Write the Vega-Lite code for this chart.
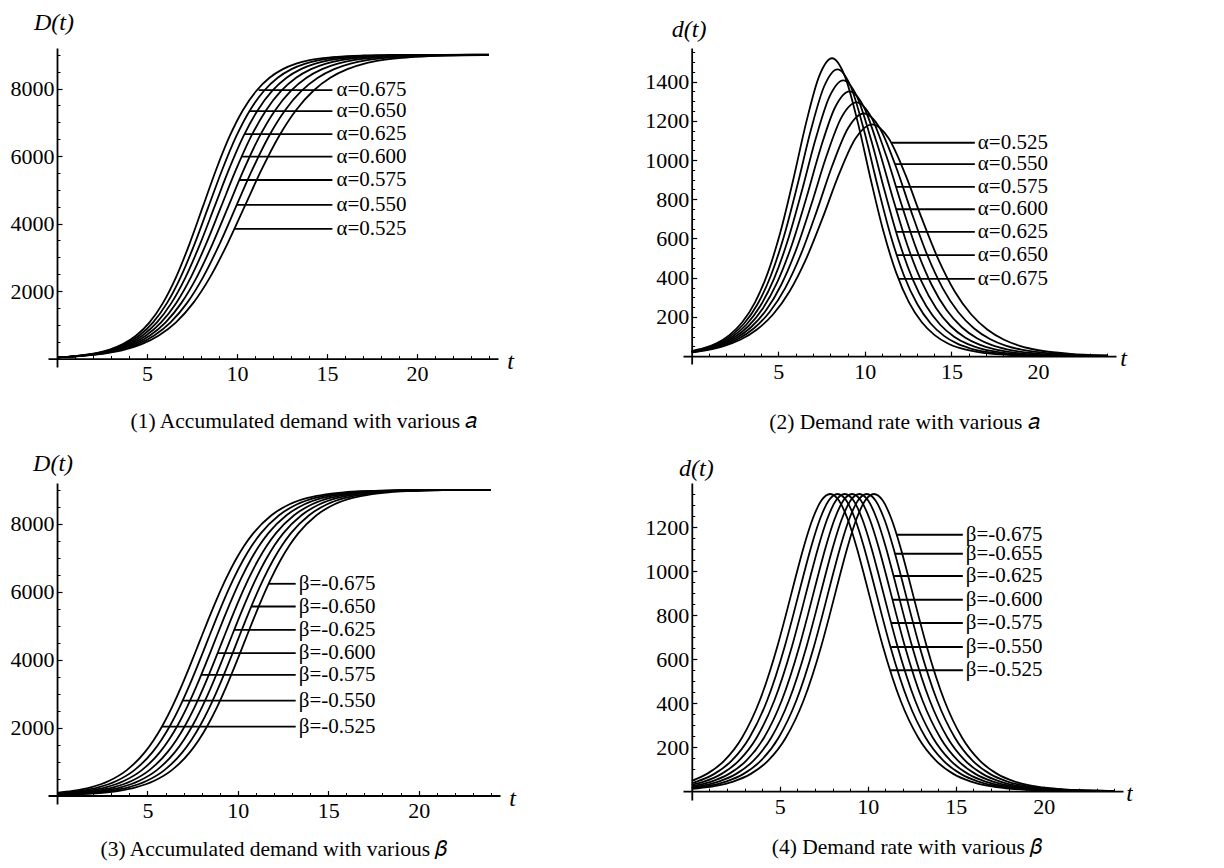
{
"$schema":"https://vega.github.io/schema/vega-lite/v6.json",
"background":"white",
"padding":{"left":10,"top":10,"right":0,"bottom":0},
"config":{"view":{"stroke":null},"font":"Liberation Serif",
 "axis":{"grid":false,"domainColor":"black","domainWidth":1.8,"tickColor":"black","labelColor":"black","labelFont":"Liberation Serif","labelFontSize":22,"titleFont":"Liberation Serif","titleColor":"black","titleFontWeight":"normal","titleFontStyle":"italic","titleFontSize":24,"titleAngle":0,"titleBaseline":"middle","titleAlign":"center"},
 "title":{"font":"Liberation Serif","fontSize":21.5,"fontWeight":"normal","color":"black","orient":"bottom","anchor":"middle","frame":"group"}},
"datasets":{
"A":[
{"s":"0.525","t":0,"D":38,"d":19.7},{"s":"0.525","t":0.895,"D":60,"d":31.4},{"s":"0.525","t":1.848,"D":99,"d":51.3},{"s":"0.525","t":2.8,"D":162,"d":83.5},{"s":"0.525","t":3.752,"D":264,"d":134.5},{"s":"0.525","t":4.705,"D":427,"d":213.5},{"s":"0.525","t":5.657,"D":683,"d":331.2},{"s":"0.525","t":6.61,"D":1073,"d":496.1},{"s":"0.525","t":7.562,"D":1642,"d":704.7},{"s":"0.525","t":8.514,"D":2421,"d":929},{"s":"0.525","t":9.467,"D":3398,"d":1110.4},{"s":"0.525","t":10.419,"D":4500,"d":1181.3},{"s":"0.525","t":11.371,"D":5602,"d":1110.4},{"s":"0.525","t":12.324,"D":6580,"d":929},{"s":"0.525","t":13.276,"D":7358,"d":704.7},{"s":"0.525","t":14.229,"D":7927,"d":496.1},{"s":"0.525","t":15.181,"D":8317,"d":331.2},{"s":"0.525","t":16.133,"D":8573,"d":213.5},{"s":"0.525","t":17.086,"D":8736,"d":134.5},{"s":"0.525","t":18.038,"D":8838,"d":83.5},{"s":"0.525","t":18.99,"D":8901,"d":51.3},{"s":"0.525","t":19.943,"D":8940,"d":31.4},{"s":"0.525","t":21.848,"D":8978,"d":11.7},{"s":"0.525","t":23.752,"D":8992,"d":4.3},{"s":"0.525","t":24,"D":8993,"d":3.8},
{"s":"0.550","t":0,"D":38,"d":20.7},{"s":"0.550","t":0.855,"D":60,"d":32.9},{"s":"0.550","t":1.764,"D":99,"d":53.8},{"s":"0.550","t":2.673,"D":162,"d":87.5},{"s":"0.550","t":3.582,"D":264,"d":140.9},{"s":"0.550","t":4.491,"D":427,"d":223.6},{"s":"0.550","t":5.4,"D":683,"d":347},{"s":"0.550","t":6.309,"D":1073,"d":519.7},{"s":"0.550","t":7.218,"D":1642,"d":738.3},{"s":"0.550","t":8.127,"D":2421,"d":973.2},{"s":"0.550","t":9.036,"D":3398,"d":1163.3},{"s":"0.550","t":9.945,"D":4500,"d":1237.5},{"s":"0.550","t":10.855,"D":5602,"d":1163.3},{"s":"0.550","t":11.764,"D":6580,"d":973.2},{"s":"0.550","t":12.673,"D":7358,"d":738.3},{"s":"0.550","t":13.582,"D":7927,"d":519.7},{"s":"0.550","t":14.491,"D":8317,"d":347},{"s":"0.550","t":15.4,"D":8573,"d":223.6},{"s":"0.550","t":16.309,"D":8736,"d":140.9},{"s":"0.550","t":17.218,"D":8838,"d":87.5},{"s":"0.550","t":18.127,"D":8901,"d":53.8},{"s":"0.550","t":19.036,"D":8940,"d":32.9},{"s":"0.550","t":20.855,"D":8978,"d":12.2},{"s":"0.550","t":22.673,"D":8992,"d":4.5},{"s":"0.550","t":24,"D":8996,"d":2.2},
{"s":"0.575","t":0,"D":38,"d":21.6},{"s":"0.575","t":0.817,"D":60,"d":34.4},{"s":"0.575","t":1.687,"D":99,"d":56.2},{"s":"0.575","t":2.557,"D":162,"d":91.4},{"s":"0.575","t":3.426,"D":264,"d":147.3},{"s":"0.575","t":4.296,"D":427,"d":233.8},{"s":"0.575","t":5.165,"D":683,"d":362.8},{"s":"0.575","t":6.035,"D":1073,"d":543.3},{"s":"0.575","t":6.904,"D":1642,"d":771.8},{"s":"0.575","t":7.774,"D":2421,"d":1017.5},{"s":"0.575","t":8.643,"D":3398,"d":1216.1},{"s":"0.575","t":9.513,"D":4500,"d":1293.8},{"s":"0.575","t":10.383,"D":5602,"d":1216.1},{"s":"0.575","t":11.252,"D":6580,"d":1017.5},{"s":"0.575","t":12.122,"D":7358,"d":771.8},{"s":"0.575","t":12.991,"D":7927,"d":543.3},{"s":"0.575","t":13.861,"D":8317,"d":362.8},{"s":"0.575","t":14.73,"D":8573,"d":233.8},{"s":"0.575","t":15.6,"D":8736,"d":147.3},{"s":"0.575","t":16.47,"D":8838,"d":91.4},{"s":"0.575","t":17.339,"D":8901,"d":56.2},{"s":"0.575","t":18.209,"D":8940,"d":34.4},{"s":"0.575","t":19.948,"D":8978,"d":12.8},{"s":"0.575","t":21.687,"D":8992,"d":4.7},{"s":"0.575","t":23.426,"D":8997,"d":1.7},{"s":"0.575","t":24,"D":8998,"d":1.2},
{"s":"0.600","t":0,"D":38,"d":22.6},{"s":"0.600","t":0.783,"D":60,"d":35.9},{"s":"0.600","t":1.617,"D":99,"d":58.7},{"s":"0.600","t":2.45,"D":162,"d":95.4},{"s":"0.600","t":3.283,"D":264,"d":153.7},{"s":"0.600","t":4.117,"D":427,"d":244},{"s":"0.600","t":4.95,"D":683,"d":378.5},{"s":"0.600","t":5.783,"D":1073,"d":566.9},{"s":"0.600","t":6.617,"D":1642,"d":805.4},{"s":"0.600","t":7.45,"D":2421,"d":1061.7},{"s":"0.600","t":8.283,"D":3398,"d":1269},{"s":"0.600","t":9.117,"D":4500,"d":1350},{"s":"0.600","t":9.95,"D":5602,"d":1269},{"s":"0.600","t":10.783,"D":6580,"d":1061.7},{"s":"0.600","t":11.617,"D":7358,"d":805.4},{"s":"0.600","t":12.45,"D":7927,"d":566.9},{"s":"0.600","t":13.283,"D":8317,"d":378.5},{"s":"0.600","t":14.117,"D":8573,"d":244},{"s":"0.600","t":14.95,"D":8736,"d":153.7},{"s":"0.600","t":15.783,"D":8838,"d":95.4},{"s":"0.600","t":16.617,"D":8901,"d":58.7},{"s":"0.600","t":17.45,"D":8940,"d":35.9},{"s":"0.600","t":19.117,"D":8978,"d":13.3},{"s":"0.600","t":20.783,"D":8992,"d":4.9},{"s":"0.600","t":22.45,"D":8997,"d":1.8},{"s":"0.600","t":24,"D":8999,"d":0.7},
{"s":"0.625","t":0,"D":38,"d":23.5},{"s":"0.625","t":0.752,"D":60,"d":37.4},{"s":"0.625","t":1.552,"D":99,"d":61.1},{"s":"0.625","t":2.352,"D":162,"d":99.4},{"s":"0.625","t":3.152,"D":264,"d":160.1},{"s":"0.625","t":3.952,"D":427,"d":254.1},{"s":"0.625","t":4.752,"D":683,"d":394.3},{"s":"0.625","t":5.552,"D":1073,"d":590.6},{"s":"0.625","t":6.352,"D":1642,"d":838.9},{"s":"0.625","t":7.152,"D":2421,"d":1105.9},{"s":"0.625","t":7.952,"D":3398,"d":1321.9},{"s":"0.625","t":8.752,"D":4500,"d":1406.3},{"s":"0.625","t":9.552,"D":5602,"d":1321.9},{"s":"0.625","t":10.352,"D":6580,"d":1105.9},{"s":"0.625","t":11.152,"D":7358,"d":838.9},{"s":"0.625","t":11.952,"D":7927,"d":590.6},{"s":"0.625","t":12.752,"D":8317,"d":394.3},{"s":"0.625","t":13.552,"D":8573,"d":254.1},{"s":"0.625","t":14.352,"D":8736,"d":160.1},{"s":"0.625","t":15.152,"D":8838,"d":99.4},{"s":"0.625","t":15.952,"D":8901,"d":61.1},{"s":"0.625","t":16.752,"D":8940,"d":37.4},{"s":"0.625","t":18.352,"D":8978,"d":13.9},{"s":"0.625","t":19.952,"D":8992,"d":5.1},{"s":"0.625","t":21.552,"D":8997,"d":1.9},{"s":"0.625","t":23.152,"D":8999,"d":0.7},{"s":"0.625","t":24,"D":8999,"d":0.4},
{"s":"0.650","t":0,"D":38,"d":24.4},{"s":"0.650","t":0.723,"D":60,"d":38.9},{"s":"0.650","t":1.492,"D":99,"d":63.6},{"s":"0.650","t":2.262,"D":162,"d":103.4},{"s":"0.650","t":3.031,"D":264,"d":166.5},{"s":"0.650","t":3.8,"D":427,"d":264.3},{"s":"0.650","t":4.569,"D":683,"d":410.1},{"s":"0.650","t":5.338,"D":1073,"d":614.2},{"s":"0.650","t":6.108,"D":1642,"d":872.5},{"s":"0.650","t":6.877,"D":2421,"d":1150.2},{"s":"0.650","t":7.646,"D":3398,"d":1374.8},{"s":"0.650","t":8.415,"D":4500,"d":1462.5},{"s":"0.650","t":9.185,"D":5602,"d":1374.8},{"s":"0.650","t":9.954,"D":6580,"d":1150.2},{"s":"0.650","t":10.723,"D":7358,"d":872.5},{"s":"0.650","t":11.492,"D":7927,"d":614.2},{"s":"0.650","t":12.262,"D":8317,"d":410.1},{"s":"0.650","t":13.031,"D":8573,"d":264.3},{"s":"0.650","t":13.8,"D":8736,"d":166.5},{"s":"0.650","t":14.569,"D":8838,"d":103.4},{"s":"0.650","t":15.338,"D":8901,"d":63.6},{"s":"0.650","t":16.108,"D":8940,"d":38.9},{"s":"0.650","t":17.646,"D":8978,"d":14.4},{"s":"0.650","t":19.185,"D":8992,"d":5.3},{"s":"0.650","t":20.723,"D":8997,"d":2},{"s":"0.650","t":22.262,"D":8999,"d":0.7},{"s":"0.650","t":24,"D":9000,"d":0.2},
{"s":"0.675","t":0,"D":38,"d":25.4},{"s":"0.675","t":0.696,"D":60,"d":40.4},{"s":"0.675","t":1.437,"D":99,"d":66},{"s":"0.675","t":2.178,"D":162,"d":107.3},{"s":"0.675","t":2.919,"D":264,"d":172.9},{"s":"0.675","t":3.659,"D":427,"d":274.5},{"s":"0.675","t":4.4,"D":683,"d":425.9},{"s":"0.675","t":5.141,"D":1073,"d":637.8},{"s":"0.675","t":5.881,"D":1642,"d":906.1},{"s":"0.675","t":6.622,"D":2421,"d":1194.4},{"s":"0.675","t":7.363,"D":3398,"d":1427.6},{"s":"0.675","t":8.104,"D":4500,"d":1518.8},{"s":"0.675","t":8.844,"D":5602,"d":1427.6},{"s":"0.675","t":9.585,"D":6580,"d":1194.4},{"s":"0.675","t":10.326,"D":7358,"d":906.1},{"s":"0.675","t":11.067,"D":7927,"d":637.8},{"s":"0.675","t":11.807,"D":8317,"d":425.9},{"s":"0.675","t":12.548,"D":8573,"d":274.5},{"s":"0.675","t":13.289,"D":8736,"d":172.9},{"s":"0.675","t":14.03,"D":8838,"d":107.3},{"s":"0.675","t":14.77,"D":8901,"d":66},{"s":"0.675","t":15.511,"D":8940,"d":40.4},{"s":"0.675","t":16.993,"D":8978,"d":15},{"s":"0.675","t":18.474,"D":8992,"d":5.5},{"s":"0.675","t":19.956,"D":8997,"d":2},{"s":"0.675","t":21.437,"D":8999,"d":0.7},{"s":"0.675","t":22.919,"D":9000,"d":0.3},{"s":"0.675","t":24,"D":9000,"d":0.1}
],
"B":[
{"s":"-0.525","t":0,"D":79.9,"d":47.5},{"s":"-0.525","t":0.86,"D":133,"d":78.6},{"s":"-0.525","t":1.86,"D":239.4,"d":139.8},{"s":"-0.525","t":2.86,"D":426.8,"d":244},{"s":"-0.525","t":3.86,"D":748.6,"d":411.8},{"s":"-0.525","t":4.86,"D":1276.7,"d":657.3},{"s":"-0.525","t":5.36,"D":1641.8,"d":805.4},{"s":"-0.525","t":5.86,"D":2083.3,"d":960.6},{"s":"-0.525","t":6.36,"D":2601.4,"d":1109.7},{"s":"-0.525","t":6.86,"D":3189.1,"d":1235.4},{"s":"-0.525","t":7.36,"D":3830,"d":1320.1},{"s":"-0.525","t":7.86,"D":4500,"d":1350},{"s":"-0.525","t":8.36,"D":5170,"d":1320.1},{"s":"-0.525","t":8.86,"D":5810.9,"d":1235.4},{"s":"-0.525","t":9.36,"D":6398.6,"d":1109.7},{"s":"-0.525","t":9.86,"D":6916.7,"d":960.6},{"s":"-0.525","t":10.36,"D":7358.2,"d":805.4},{"s":"-0.525","t":10.86,"D":7723.3,"d":657.3},{"s":"-0.525","t":11.86,"D":8251.4,"d":411.8},{"s":"-0.525","t":12.86,"D":8573.2,"d":244},{"s":"-0.525","t":13.86,"D":8760.6,"d":139.8},{"s":"-0.525","t":14.86,"D":8867,"d":78.6},{"s":"-0.525","t":15.86,"D":8926.5,"d":43.7},{"s":"-0.525","t":16.86,"D":8959.5,"d":24.2},{"s":"-0.525","t":17.86,"D":8977.7,"d":13.3},{"s":"-0.525","t":18.86,"D":8987.8,"d":7.3},{"s":"-0.525","t":19.86,"D":8993.3,"d":4},{"s":"-0.525","t":20.86,"D":8996.3,"d":2.2},{"s":"-0.525","t":21.86,"D":8998,"d":1.2},{"s":"-0.525","t":22.86,"D":8998.9,"d":0.7},{"s":"-0.525","t":23.86,"D":8999.4,"d":0.4},{"s":"-0.525","t":24,"D":8999.5,"d":0.3},
{"s":"-0.550","t":0,"D":62.2,"d":37},{"s":"-0.550","t":0.28,"D":73.5,"d":43.7},{"s":"-0.550","t":1.28,"D":133,"d":78.6},{"s":"-0.550","t":2.28,"D":239.4,"d":139.8},{"s":"-0.550","t":3.28,"D":426.8,"d":244},{"s":"-0.550","t":4.28,"D":748.6,"d":411.8},{"s":"-0.550","t":5.28,"D":1276.7,"d":657.3},{"s":"-0.550","t":5.78,"D":1641.8,"d":805.4},{"s":"-0.550","t":6.28,"D":2083.3,"d":960.6},{"s":"-0.550","t":6.78,"D":2601.4,"d":1109.7},{"s":"-0.550","t":7.28,"D":3189.1,"d":1235.4},{"s":"-0.550","t":7.78,"D":3830,"d":1320.1},{"s":"-0.550","t":8.28,"D":4500,"d":1350},{"s":"-0.550","t":8.78,"D":5170,"d":1320.1},{"s":"-0.550","t":9.28,"D":5810.9,"d":1235.4},{"s":"-0.550","t":9.78,"D":6398.6,"d":1109.7},{"s":"-0.550","t":10.28,"D":6916.7,"d":960.6},{"s":"-0.550","t":10.78,"D":7358.2,"d":805.4},{"s":"-0.550","t":11.28,"D":7723.3,"d":657.3},{"s":"-0.550","t":12.28,"D":8251.4,"d":411.8},{"s":"-0.550","t":13.28,"D":8573.2,"d":244},{"s":"-0.550","t":14.28,"D":8760.6,"d":139.8},{"s":"-0.550","t":15.28,"D":8867,"d":78.6},{"s":"-0.550","t":16.28,"D":8926.5,"d":43.7},{"s":"-0.550","t":17.28,"D":8959.5,"d":24.2},{"s":"-0.550","t":18.28,"D":8977.7,"d":13.3},{"s":"-0.550","t":19.28,"D":8987.8,"d":7.3},{"s":"-0.550","t":20.28,"D":8993.3,"d":4},{"s":"-0.550","t":21.28,"D":8996.3,"d":2.2},{"s":"-0.550","t":22.28,"D":8998,"d":1.2},{"s":"-0.550","t":23.28,"D":8998.9,"d":0.7},{"s":"-0.550","t":24,"D":8999.2,"d":0.5},
{"s":"-0.575","t":0,"D":48.7,"d":29.1},{"s":"-0.575","t":0.69,"D":73.5,"d":43.7},{"s":"-0.575","t":1.69,"D":133,"d":78.6},{"s":"-0.575","t":2.69,"D":239.4,"d":139.8},{"s":"-0.575","t":3.69,"D":426.8,"d":244},{"s":"-0.575","t":4.69,"D":748.6,"d":411.8},{"s":"-0.575","t":5.69,"D":1276.7,"d":657.3},{"s":"-0.575","t":6.19,"D":1641.8,"d":805.4},{"s":"-0.575","t":6.69,"D":2083.3,"d":960.6},{"s":"-0.575","t":7.19,"D":2601.4,"d":1109.7},{"s":"-0.575","t":7.69,"D":3189.1,"d":1235.4},{"s":"-0.575","t":8.19,"D":3830,"d":1320.1},{"s":"-0.575","t":8.69,"D":4500,"d":1350},{"s":"-0.575","t":9.19,"D":5170,"d":1320.1},{"s":"-0.575","t":9.69,"D":5810.9,"d":1235.4},{"s":"-0.575","t":10.19,"D":6398.6,"d":1109.7},{"s":"-0.575","t":10.69,"D":6916.7,"d":960.6},{"s":"-0.575","t":11.19,"D":7358.2,"d":805.4},{"s":"-0.575","t":11.69,"D":7723.3,"d":657.3},{"s":"-0.575","t":12.69,"D":8251.4,"d":411.8},{"s":"-0.575","t":13.69,"D":8573.2,"d":244},{"s":"-0.575","t":14.69,"D":8760.6,"d":139.8},{"s":"-0.575","t":15.69,"D":8867,"d":78.6},{"s":"-0.575","t":16.69,"D":8926.5,"d":43.7},{"s":"-0.575","t":17.69,"D":8959.5,"d":24.2},{"s":"-0.575","t":18.69,"D":8977.7,"d":13.3},{"s":"-0.575","t":19.69,"D":8987.8,"d":7.3},{"s":"-0.575","t":20.69,"D":8993.3,"d":4},{"s":"-0.575","t":21.69,"D":8996.3,"d":2.2},{"s":"-0.575","t":22.69,"D":8998,"d":1.2},{"s":"-0.575","t":23.69,"D":8998.9,"d":0.7},{"s":"-0.575","t":24,"D":8999,"d":0.6},
{"s":"-0.600","t":0,"D":37.9,"d":22.7},{"s":"-0.600","t":0.11,"D":40.5,"d":24.2},{"s":"-0.600","t":1.11,"D":73.5,"d":43.7},{"s":"-0.600","t":2.11,"D":133,"d":78.6},{"s":"-0.600","t":3.11,"D":239.4,"d":139.8},{"s":"-0.600","t":4.11,"D":426.8,"d":244},{"s":"-0.600","t":5.11,"D":748.6,"d":411.8},{"s":"-0.600","t":6.11,"D":1276.7,"d":657.3},{"s":"-0.600","t":6.61,"D":1641.8,"d":805.4},{"s":"-0.600","t":7.11,"D":2083.3,"d":960.6},{"s":"-0.600","t":7.61,"D":2601.4,"d":1109.7},{"s":"-0.600","t":8.11,"D":3189.1,"d":1235.4},{"s":"-0.600","t":8.61,"D":3830,"d":1320.1},{"s":"-0.600","t":9.11,"D":4500,"d":1350},{"s":"-0.600","t":9.61,"D":5170,"d":1320.1},{"s":"-0.600","t":10.11,"D":5810.9,"d":1235.4},{"s":"-0.600","t":10.61,"D":6398.6,"d":1109.7},{"s":"-0.600","t":11.11,"D":6916.7,"d":960.6},{"s":"-0.600","t":11.61,"D":7358.2,"d":805.4},{"s":"-0.600","t":12.11,"D":7723.3,"d":657.3},{"s":"-0.600","t":13.11,"D":8251.4,"d":411.8},{"s":"-0.600","t":14.11,"D":8573.2,"d":244},{"s":"-0.600","t":15.11,"D":8760.6,"d":139.8},{"s":"-0.600","t":16.11,"D":8867,"d":78.6},{"s":"-0.600","t":17.11,"D":8926.5,"d":43.7},{"s":"-0.600","t":18.11,"D":8959.5,"d":24.2},{"s":"-0.600","t":19.11,"D":8977.7,"d":13.3},{"s":"-0.600","t":20.11,"D":8987.8,"d":7.3},{"s":"-0.600","t":21.11,"D":8993.3,"d":4},{"s":"-0.600","t":22.11,"D":8996.3,"d":2.2},{"s":"-0.600","t":23.11,"D":8998,"d":1.2},{"s":"-0.600","t":24,"D":8998.9,"d":0.7},
{"s":"-0.625","t":0,"D":29.7,"d":17.7},{"s":"-0.625","t":0.52,"D":40.5,"d":24.2},{"s":"-0.625","t":1.52,"D":73.5,"d":43.7},{"s":"-0.625","t":2.52,"D":133,"d":78.6},{"s":"-0.625","t":3.52,"D":239.4,"d":139.8},{"s":"-0.625","t":4.52,"D":426.8,"d":244},{"s":"-0.625","t":5.52,"D":748.6,"d":411.8},{"s":"-0.625","t":6.52,"D":1276.7,"d":657.3},{"s":"-0.625","t":7.02,"D":1641.8,"d":805.4},{"s":"-0.625","t":7.52,"D":2083.3,"d":960.6},{"s":"-0.625","t":8.02,"D":2601.4,"d":1109.7},{"s":"-0.625","t":8.52,"D":3189.1,"d":1235.4},{"s":"-0.625","t":9.02,"D":3830,"d":1320.1},{"s":"-0.625","t":9.52,"D":4500,"d":1350},{"s":"-0.625","t":10.02,"D":5170,"d":1320.1},{"s":"-0.625","t":10.52,"D":5810.9,"d":1235.4},{"s":"-0.625","t":11.02,"D":6398.6,"d":1109.7},{"s":"-0.625","t":11.52,"D":6916.7,"d":960.6},{"s":"-0.625","t":12.02,"D":7358.2,"d":805.4},{"s":"-0.625","t":12.52,"D":7723.3,"d":657.3},{"s":"-0.625","t":13.52,"D":8251.4,"d":411.8},{"s":"-0.625","t":14.52,"D":8573.2,"d":244},{"s":"-0.625","t":15.52,"D":8760.6,"d":139.8},{"s":"-0.625","t":16.52,"D":8867,"d":78.6},{"s":"-0.625","t":17.52,"D":8926.5,"d":43.7},{"s":"-0.625","t":18.52,"D":8959.5,"d":24.2},{"s":"-0.625","t":19.52,"D":8977.7,"d":13.3},{"s":"-0.625","t":20.52,"D":8987.8,"d":7.3},{"s":"-0.625","t":21.52,"D":8993.3,"d":4},{"s":"-0.625","t":22.52,"D":8996.3,"d":2.2},{"s":"-0.625","t":23.52,"D":8998,"d":1.2},{"s":"-0.625","t":24,"D":8998.5,"d":0.9},
{"s":"-0.650","t":0,"D":23.1,"d":13.8},{"s":"-0.650","t":0.94,"D":40.5,"d":24.2},{"s":"-0.650","t":1.94,"D":73.5,"d":43.7},{"s":"-0.650","t":2.94,"D":133,"d":78.6},{"s":"-0.650","t":3.94,"D":239.4,"d":139.8},{"s":"-0.650","t":4.94,"D":426.8,"d":244},{"s":"-0.650","t":5.94,"D":748.6,"d":411.8},{"s":"-0.650","t":6.94,"D":1276.7,"d":657.3},{"s":"-0.650","t":7.44,"D":1641.8,"d":805.4},{"s":"-0.650","t":7.94,"D":2083.3,"d":960.6},{"s":"-0.650","t":8.44,"D":2601.4,"d":1109.7},{"s":"-0.650","t":8.94,"D":3189.1,"d":1235.4},{"s":"-0.650","t":9.44,"D":3830,"d":1320.1},{"s":"-0.650","t":9.94,"D":4500,"d":1350},{"s":"-0.650","t":10.44,"D":5170,"d":1320.1},{"s":"-0.650","t":10.94,"D":5810.9,"d":1235.4},{"s":"-0.650","t":11.44,"D":6398.6,"d":1109.7},{"s":"-0.650","t":11.94,"D":6916.7,"d":960.6},{"s":"-0.650","t":12.44,"D":7358.2,"d":805.4},{"s":"-0.650","t":12.94,"D":7723.3,"d":657.3},{"s":"-0.650","t":13.94,"D":8251.4,"d":411.8},{"s":"-0.650","t":14.94,"D":8573.2,"d":244},{"s":"-0.650","t":15.94,"D":8760.6,"d":139.8},{"s":"-0.650","t":16.94,"D":8867,"d":78.6},{"s":"-0.650","t":17.94,"D":8926.5,"d":43.7},{"s":"-0.650","t":18.94,"D":8959.5,"d":24.2},{"s":"-0.650","t":19.94,"D":8977.7,"d":13.3},{"s":"-0.650","t":20.94,"D":8987.8,"d":7.3},{"s":"-0.650","t":21.94,"D":8993.3,"d":4},{"s":"-0.650","t":22.94,"D":8996.3,"d":2.2},{"s":"-0.650","t":23.94,"D":8998,"d":1.2},{"s":"-0.650","t":24,"D":8998.1,"d":1.1},
{"s":"-0.675","t":0,"D":18,"d":10.8},{"s":"-0.675","t":0.35,"D":22.3,"d":13.3},{"s":"-0.675","t":1.35,"D":40.5,"d":24.2},{"s":"-0.675","t":2.35,"D":73.5,"d":43.7},{"s":"-0.675","t":3.35,"D":133,"d":78.6},{"s":"-0.675","t":4.35,"D":239.4,"d":139.8},{"s":"-0.675","t":5.35,"D":426.8,"d":244},{"s":"-0.675","t":6.35,"D":748.6,"d":411.8},{"s":"-0.675","t":7.35,"D":1276.7,"d":657.3},{"s":"-0.675","t":7.85,"D":1641.8,"d":805.4},{"s":"-0.675","t":8.35,"D":2083.3,"d":960.6},{"s":"-0.675","t":8.85,"D":2601.4,"d":1109.7},{"s":"-0.675","t":9.35,"D":3189.1,"d":1235.4},{"s":"-0.675","t":9.85,"D":3830,"d":1320.1},{"s":"-0.675","t":10.35,"D":4500,"d":1350},{"s":"-0.675","t":10.85,"D":5170,"d":1320.1},{"s":"-0.675","t":11.35,"D":5810.9,"d":1235.4},{"s":"-0.675","t":11.85,"D":6398.6,"d":1109.7},{"s":"-0.675","t":12.35,"D":6916.7,"d":960.6},{"s":"-0.675","t":12.85,"D":7358.2,"d":805.4},{"s":"-0.675","t":13.35,"D":7723.3,"d":657.3},{"s":"-0.675","t":14.35,"D":8251.4,"d":411.8},{"s":"-0.675","t":15.35,"D":8573.2,"d":244},{"s":"-0.675","t":16.35,"D":8760.6,"d":139.8},{"s":"-0.675","t":17.35,"D":8867,"d":78.6},{"s":"-0.675","t":18.35,"D":8926.5,"d":43.7},{"s":"-0.675","t":19.35,"D":8959.5,"d":24.2},{"s":"-0.675","t":20.35,"D":8977.7,"d":13.3},{"s":"-0.675","t":21.35,"D":8987.8,"d":7.3},{"s":"-0.675","t":22.35,"D":8993.3,"d":4},{"s":"-0.675","t":23.35,"D":8996.3,"d":2.2},{"s":"-0.675","t":24,"D":8997.5,"d":1.5}
],
"L1":[{"lab":"α=0.675","y":7950,"x1":11.2,"x2":15.3},{"lab":"α=0.650","y":7330,"x1":10.7,"x2":15.3},{"lab":"α=0.625","y":6650,"x1":10.45,"x2":15.3},{"lab":"α=0.600","y":5980,"x1":10.25,"x2":15.3},{"lab":"α=0.575","y":5290,"x1":10.12,"x2":15.3},{"lab":"α=0.550","y":4550,"x1":9.99,"x2":15.3},{"lab":"α=0.525","y":3840,"x1":9.86,"x2":15.3}],
"L2":[{"lab":"α=0.525","y":1088,"x1":11.56,"x2":16.35},{"lab":"α=0.550","y":979,"x1":11.74,"x2":16.35},{"lab":"α=0.575","y":863,"x1":11.81,"x2":16.35},{"lab":"α=0.600","y":749,"x1":11.8,"x2":16.35},{"lab":"α=0.625","y":634,"x1":11.82,"x2":16.35},{"lab":"α=0.650","y":515,"x1":11.86,"x2":16.35},{"lab":"α=0.675","y":394,"x1":11.94,"x2":16.35}],
"L3":[{"lab":"β=-0.675","y":6233,"x1":11.7,"x2":13.2},{"lab":"β=-0.650","y":5564,"x1":10.74,"x2":13.2},{"lab":"β=-0.625","y":4878,"x1":9.8,"x2":13.2},{"lab":"β=-0.600","y":4191,"x1":8.88,"x2":13.2},{"lab":"β=-0.575","y":3552,"x1":7.98,"x2":13.2},{"lab":"β=-0.550","y":2795,"x1":6.95,"x2":13.2},{"lab":"β=-0.525","y":2029,"x1":5.8,"x2":13.2}],
"L4":[{"lab":"β=-0.675","y":1165,"x1":11.64,"x2":15.4},{"lab":"β=-0.655","y":1079,"x1":11.53,"x2":15.4},{"lab":"β=-0.625","y":977,"x1":11.49,"x2":15.4},{"lab":"β=-0.600","y":870,"x1":11.43,"x2":15.4},{"lab":"β=-0.575","y":764,"x1":11.34,"x2":15.4},{"lab":"β=-0.550","y":655,"x1":11.33,"x2":15.4},{"lab":"β=-0.525","y":549,"x1":11.25,"x2":15.4}]
},
"bounds":"flush",
"columns":2,
"spacing":{"row":116,"column":183},
"concat":[
 {"width":450,"height":319,
  "title":{"text":"(1) Accumulated demand with various 𝑎","offset":26,"dx":31},
  "resolve":{"axis":{"x":"independent","y":"independent"}},
  "layer":[
   {"data":{"name":"A"},"mark":{"type":"line","color":"black","strokeWidth":1.8,"interpolate":"monotone"},
    "encoding":{
     "x":{"field":"t","type":"quantitative","scale":{"domain":[-0.5,24.5],"nice":false,"zero":false},"axis":{"orient":"bottom","values":[5,10,15,20],"tickSize":-5,"tickWidth":1.2,"labelPadding":10,"offset":-8.44,"title":"t","titleX":462,"titleY":3}},
     "y":{"field":"D","type":"quantitative","scale":{"domain":[-250,9200],"nice":false,"zero":false},"axis":{"orient":"left","values":[2000,4000,6000,8000],"format":"d","tickSize":-5,"tickWidth":1.2,"labelPadding":8,"offset":-9,"title":"D(t)","titleX":-3.5,"titleY":-26}},
     "detail":{"field":"s"}}},
   {"data":{"name":"L1"},"mark":{"type":"rule","color":"black","strokeWidth":1.8},
    "encoding":{
     "x":{"field":"x1","type":"quantitative","axis":{"orient":"bottom","values":[1,2,3,4,6,7,8,9,11,12,13,14,16,17,18,19,21,22,23,24],"labels":false,"domain":false,"tickSize":-3,"tickWidth":1,"offset":-8.44,"title":null}},
     "x2":{"field":"x2"},
     "y":{"field":"y","type":"quantitative","axis":{"orient":"left","values":[500,1000,1500,2500,3000,3500,4500,5000,5500,6500,7000,7500,8500,9000],"labels":false,"domain":false,"tickSize":-3,"tickWidth":1,"offset":-9,"title":null}}}},
   {"data":{"name":"L1"},"mark":{"type":"text","align":"left","baseline":"middle","dx":4,"fontSize":21,"font":"Liberation Serif","color":"black"},
    "encoding":{"x":{"field":"x2","type":"quantitative","axis":null},"y":{"field":"y","type":"quantitative","axis":null},"text":{"field":"lab"}}}
  ]},
 {"width":433,"height":316,
  "title":{"text":"(2) Demand rate with various 𝑎","offset":30,"dx":5},
  "resolve":{"axis":{"x":"independent","y":"independent"}},
  "layer":[
   {"data":{"name":"A"},"mark":{"type":"line","color":"black","strokeWidth":1.8,"interpolate":"monotone"},
    "encoding":{
     "x":{"field":"t","type":"quantitative","scale":{"domain":[-0.5,24.5],"nice":false,"zero":false},"axis":{"orient":"bottom","values":[5,10,15,20],"tickSize":-5,"tickWidth":1.2,"labelPadding":10,"offset":-7.85,"title":"t","titleX":440,"titleY":2}},
     "y":{"field":"d","type":"quantitative","scale":{"domain":[-40,1571],"nice":false,"zero":false},"axis":{"orient":"left","values":[200,400,600,800,1000,1200,1400],"format":"d","tickSize":-5,"tickWidth":1.2,"labelPadding":8,"offset":-8.66,"title":"d(t)","titleX":-3,"titleY":-19}},
     "detail":{"field":"s"}}},
   {"data":{"name":"L2"},"mark":{"type":"rule","color":"black","strokeWidth":1.8},
    "encoding":{
     "x":{"field":"x1","type":"quantitative","axis":{"orient":"bottom","values":[1,2,3,4,6,7,8,9,11,12,13,14,16,17,18,19,21,22,23,24],"labels":false,"domain":false,"tickSize":-3,"tickWidth":1,"offset":-7.85,"title":null}},
     "x2":{"field":"x2"},
     "y":{"field":"y","type":"quantitative","axis":{"orient":"left","values":[50,100,150,250,300,350,450,500,550,650,700,750,850,900,950,1050,1100,1150,1250,1300,1350,1450,1500,1550],"labels":false,"domain":false,"tickSize":-3,"tickWidth":1,"offset":-8.66,"title":null}}}},
   {"data":{"name":"L2"},"mark":{"type":"text","align":"left","baseline":"middle","dx":3,"fontSize":21,"font":"Liberation Serif","color":"black"},
    "encoding":{"x":{"field":"x2","type":"quantitative","axis":null},"y":{"field":"y","type":"quantitative","axis":null},"text":{"field":"lab"}}}
  ]},
 {"width":452,"height":321,
  "title":{"text":"(3) Accumulated demand with various 𝛽","offset":17,"dx":0},
  "resolve":{"axis":{"x":"independent","y":"independent"}},
  "layer":[
   {"data":{"name":"B"},"mark":{"type":"line","color":"black","strokeWidth":1.8,"interpolate":"monotone"},
    "encoding":{
     "x":{"field":"t","type":"quantitative","scale":{"domain":[-0.5,24.5],"nice":false,"zero":false},"axis":{"orient":"bottom","values":[5,10,15,20],"tickSize":-5,"tickWidth":1.2,"labelPadding":10,"offset":-8.49,"title":"t","titleX":464,"titleY":3}},
     "y":{"field":"D","type":"quantitative","scale":{"domain":[-250,9200],"nice":false,"zero":false},"axis":{"orient":"left","values":[2000,4000,6000,8000],"format":"d","tickSize":-5,"tickWidth":1.2,"labelPadding":8,"offset":-9.04,"title":"D(t)","titleX":-4.5,"titleY":-20}},
     "detail":{"field":"s"}}},
   {"data":{"name":"L3"},"mark":{"type":"rule","color":"black","strokeWidth":1.8},
    "encoding":{
     "x":{"field":"x1","type":"quantitative","axis":{"orient":"bottom","values":[1,2,3,4,6,7,8,9,11,12,13,14,16,17,18,19,21,22,23,24],"labels":false,"domain":false,"tickSize":-3,"tickWidth":1,"offset":-8.49,"title":null}},
     "x2":{"field":"x2"},
     "y":{"field":"y","type":"quantitative","axis":{"orient":"left","values":[500,1000,1500,2500,3000,3500,4500,5000,5500,6500,7000,7500,8500,9000],"labels":false,"domain":false,"tickSize":-3,"tickWidth":1,"offset":-9.04,"title":null}}}},
   {"data":{"name":"L3"},"mark":{"type":"text","align":"left","baseline":"middle","dx":3,"fontSize":21,"font":"Liberation Serif","color":"black"},
    "encoding":{"x":{"field":"x2","type":"quantitative","axis":null},"y":{"field":"y","type":"quantitative","axis":null},"text":{"field":"lab"}}}
  ]},
 {"width":440,"height":317,
  "title":{"text":"(4) Demand rate with various 𝛽","offset":20,"dx":4},
  "resolve":{"axis":{"x":"independent","y":"independent"}},
  "layer":[
   {"data":{"name":"B"},"mark":{"type":"line","color":"black","strokeWidth":1.8,"interpolate":"monotone"},
    "encoding":{
     "x":{"field":"t","type":"quantitative","scale":{"domain":[-0.5,24.5],"nice":false,"zero":false},"axis":{"orient":"bottom","values":[5,10,15,20],"tickSize":-5,"tickWidth":1.2,"labelPadding":10,"offset":-8.8,"title":"t","titleX":446,"titleY":2}},
     "y":{"field":"d","type":"quantitative","scale":{"domain":[-40,1400],"nice":false,"zero":false},"axis":{"orient":"left","values":[200,400,600,800,1000,1200],"format":"d","tickSize":-5,"tickWidth":1.2,"labelPadding":8,"offset":-8.8,"title":"d(t)","titleX":4,"titleY":-15}},
     "detail":{"field":"s"}}},
   {"data":{"name":"L4"},"mark":{"type":"rule","color":"black","strokeWidth":2},
    "encoding":{
     "x":{"field":"x1","type":"quantitative","axis":{"orient":"bottom","values":[1,2,3,4,6,7,8,9,11,12,13,14,16,17,18,19,21,22,23,24],"labels":false,"domain":false,"tickSize":-3,"tickWidth":1,"offset":-8.8,"title":null}},
     "x2":{"field":"x2"},
     "y":{"field":"y","type":"quantitative","axis":{"orient":"left","values":[50,100,150,250,300,350,450,500,550,650,700,750,850,900,950,1050,1100,1150,1250,1300,1350],"labels":false,"domain":false,"tickSize":-3,"tickWidth":1,"offset":-8.8,"title":null}}}},
   {"data":{"name":"L4"},"mark":{"type":"text","align":"left","baseline":"middle","dx":3,"fontSize":21,"font":"Liberation Serif","color":"black"},
    "encoding":{"x":{"field":"x2","type":"quantitative","axis":null},"y":{"field":"y","type":"quantitative","axis":null},"text":{"field":"lab"}}}
  ]}
]
}
